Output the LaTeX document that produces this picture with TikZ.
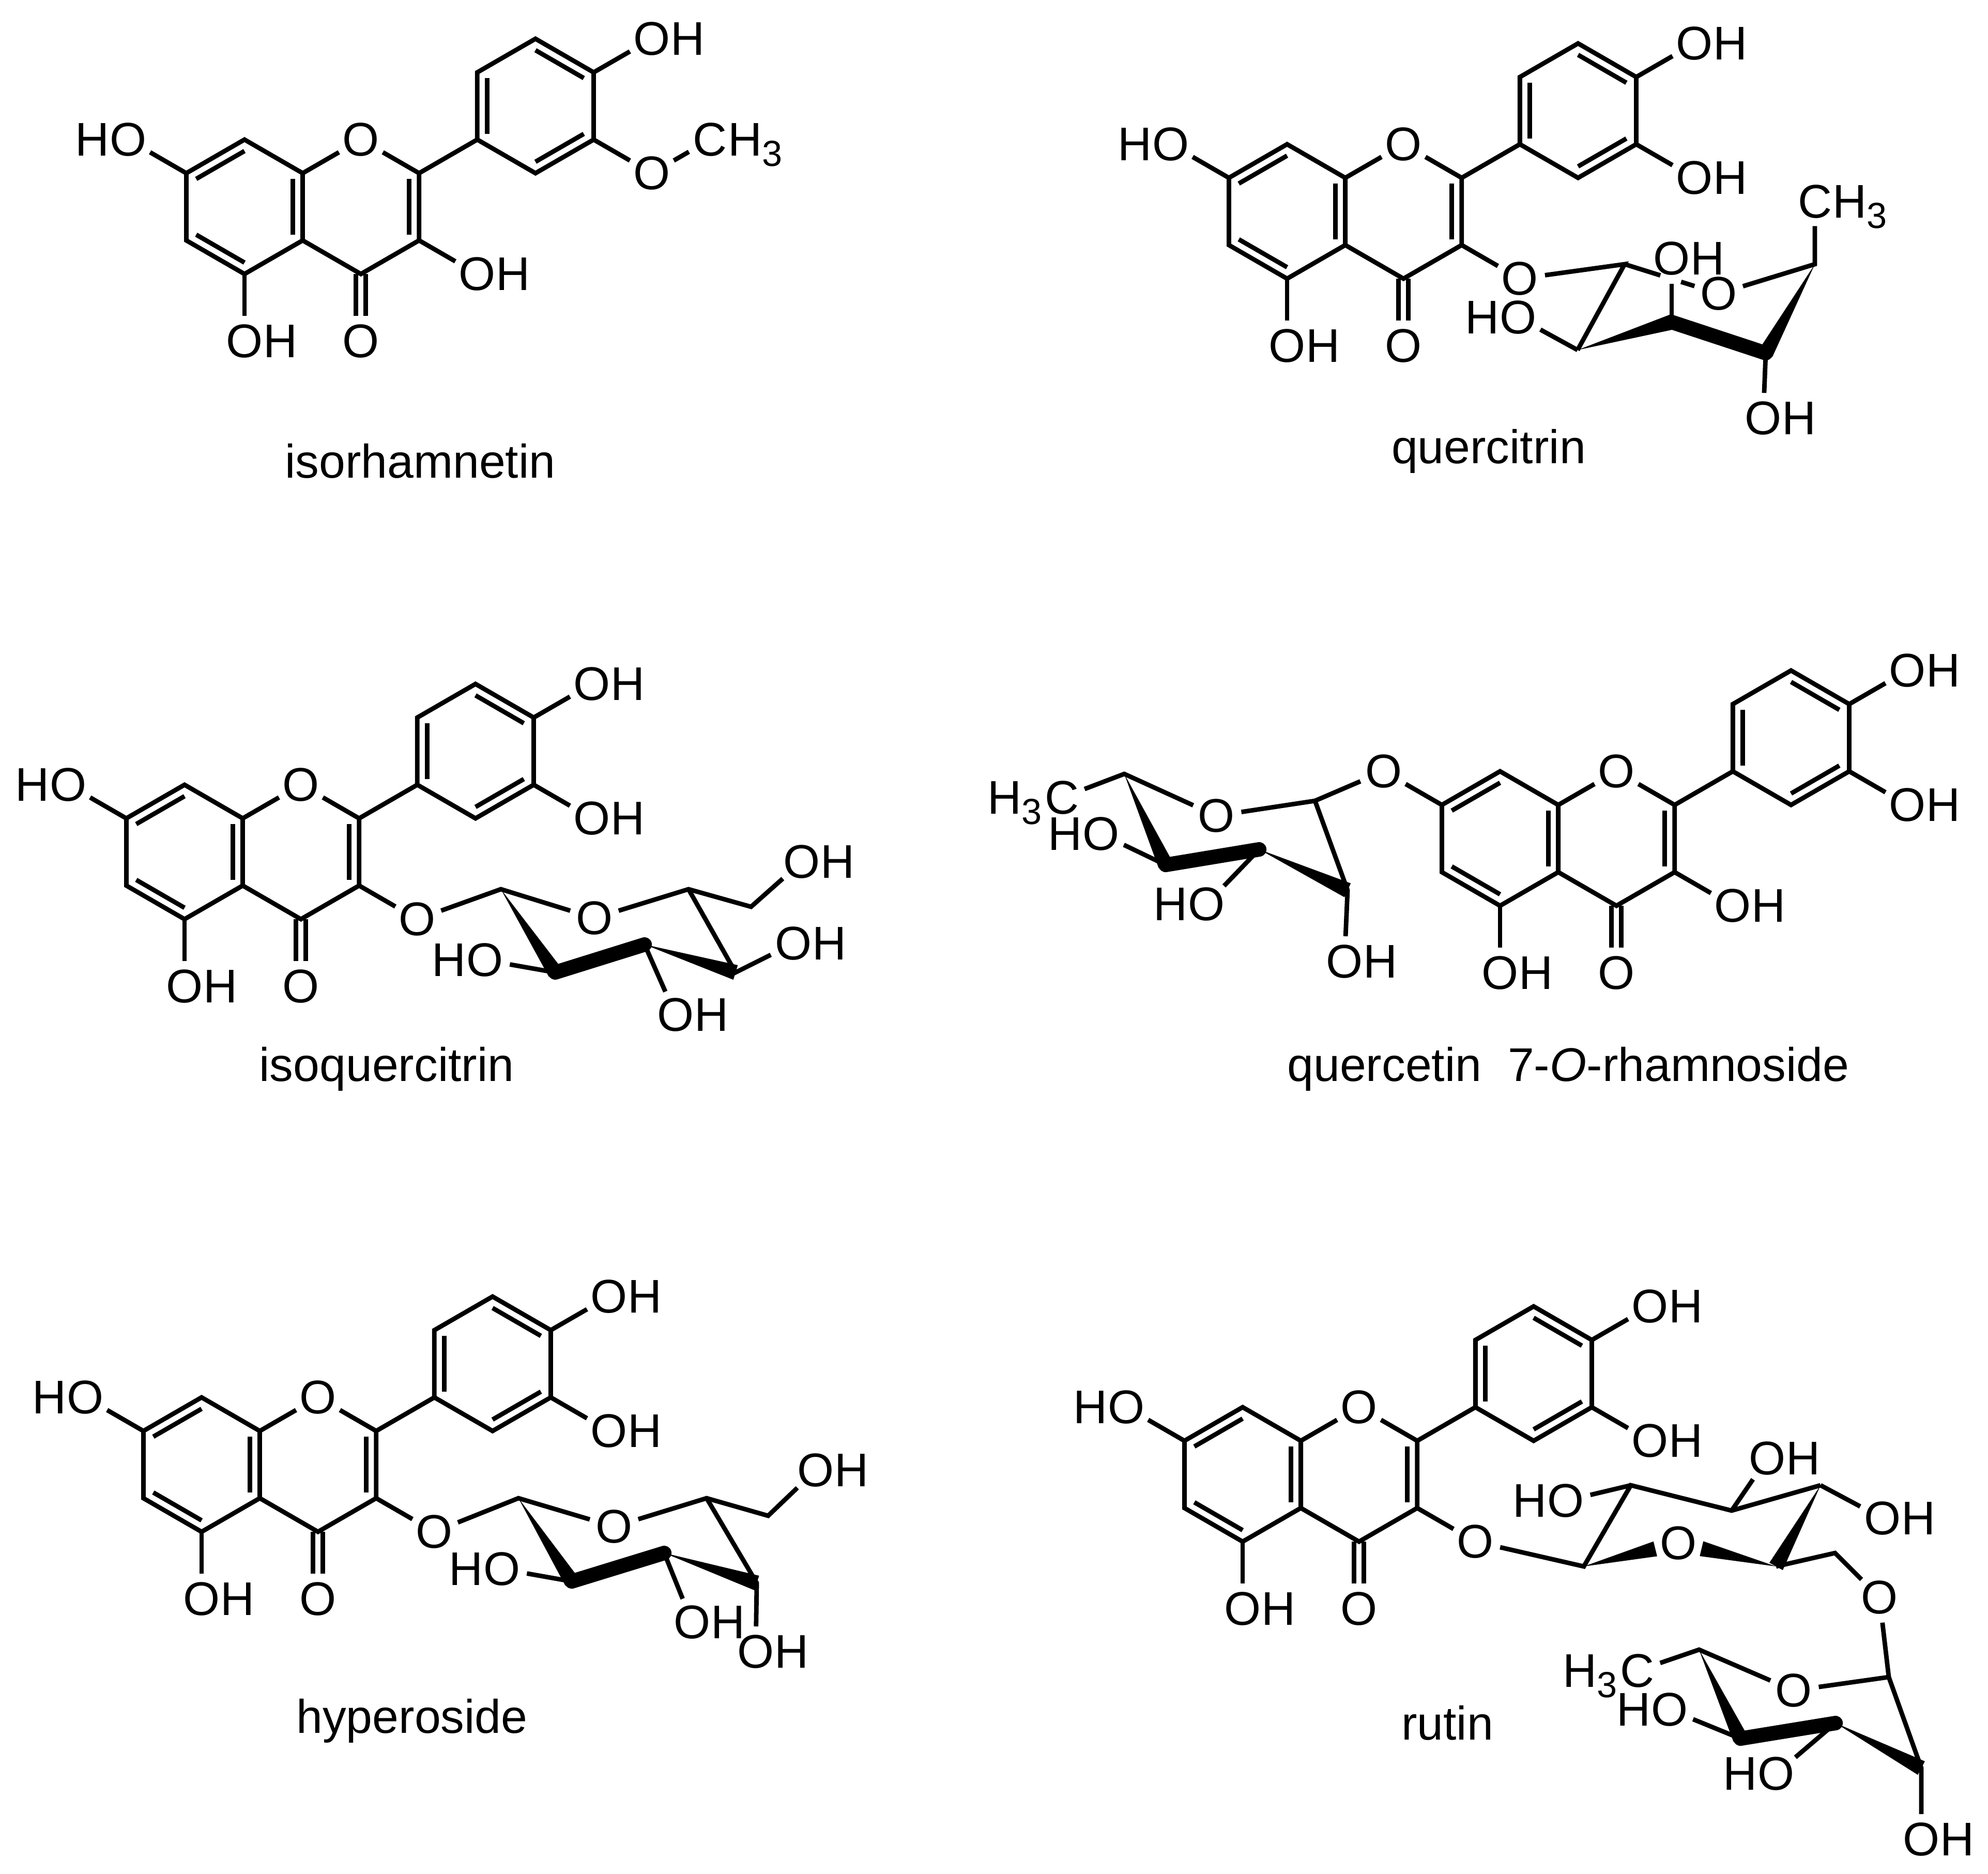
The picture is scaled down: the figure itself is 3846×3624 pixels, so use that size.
\documentclass[tikz,border=0pt]{standalone}
\usepackage{fontspec}
\setmainfont{Liberation Sans}
\usetikzlibrary{calc}

\tikzset{
	bond/.style={line width=1.25pt},
	bold/.style={line width=4pt, line cap=round},
	atom/.style={circle, inner sep=0pt, text depth=0pt},
	hr/.style={inner sep=0pt, xshift=-2pt, text depth=0pt},
	hl/.style={inner sep=0pt, xshift=2pt, text depth=0pt},
	titolo/.style={inner sep=0pt}
}

\newcommand{\inbond}[3]{\draw[bond] ($(#1)!0.17!(#3)$) -- ($(#2)!0.17!(#3)$);}
\newcommand{\wdg}[2]{\fill (#1) -- ($(#2)!2.1pt!90:(#1)$) -- ($(#2)!2.1pt!-90:(#1)$) -- cycle;}
\newcommand{\tre}{$_{\mbox{\fontsize{10}{12}\selectfont 3}}$}

\newcommand{\flavone}[3]{%
	\begin{scope}[shift={(#2,#3)}, x={(6.5mm,0)}, y={(0,6.5mm)}]
		%Centri degli anelli
		\coordinate (#1-ca) at (0,0);
		\coordinate (#1-cc) at (1.732,0);
		\coordinate (#1-cb) at (4.330,1.5);
		%Atomi di carbonio
		\coordinate (#1-c8) at (0,1);
		\coordinate (#1-c8a) at (0.866,0.5);
		\coordinate (#1-c4a) at (0.866,-0.5);
		\coordinate (#1-c5) at (0,-1);
		\coordinate (#1-c6) at (-0.866,-0.5);
		\coordinate (#1-c7) at (-0.866,0.5);
		\coordinate (#1-c2) at (2.598,0.5);
		\coordinate (#1-c3) at (2.598,-0.5);
		\coordinate (#1-c4) at (1.732,-1);
		\coordinate (#1-b1) at (3.464,1);
		\coordinate (#1-b2) at (3.464,2);
		\coordinate (#1-b3) at (4.330,2.5);
		\coordinate (#1-b4) at (5.196,2);
		\coordinate (#1-b5) at (5.196,1);
		\coordinate (#1-b6) at (4.330,0.5);
		%Posizioni dei sostituenti
		\coordinate (#1-p3) at (3.464,-1);
		\coordinate (#1-p7) at (-1.732,1);
		\coordinate (#1-p3p) at (6.062,0.5);
		\coordinate (#1-pme) at (6.928,1);
		%Ossigeni
		\node[atom] (#1-o1) at (1.732,1) {O};
		\node[atom] (#1-o4) at (1.732,-2) {O};
		\node[atom, label={[hr]east:H}] (#1-o5) at (0,-2) {O};
		\node[atom, label={[hr]east:H}] (#1-o4p) at (6.062,2.5) {O};
		%Legami
		\draw[bond] (#1-c7) -- (#1-c8) -- (#1-c8a) -- (#1-c4a) -- (#1-c5) -- (#1-c6) -- cycle;
		\draw[bond] (#1-c8a) -- (#1-o1) -- (#1-c2) -- (#1-c3) -- (#1-c4) -- (#1-c4a);
		\draw[bond] (#1-b1) -- (#1-b2) -- (#1-b3) -- (#1-b4) -- (#1-b5) -- (#1-b6) -- cycle;
		\draw[bond] (#1-c2) -- (#1-b1);
		\draw[bond] (#1-c5) -- (#1-o5);
		\draw[bond] (#1-b4) -- (#1-o4p);
		\draw[bond] ([xshift=-1.35pt]#1-c4) -- ([xshift=-1.35pt]#1-o4.north);
		\draw[bond] ([xshift=1.35pt]#1-c4) -- ([xshift=1.35pt]#1-o4.north);
		\inbond{#1-c7}{#1-c8}{#1-ca}
		\inbond{#1-c8a}{#1-c4a}{#1-ca}
		\inbond{#1-c5}{#1-c6}{#1-ca}
		\inbond{#1-c2}{#1-c3}{#1-cc}
		\inbond{#1-b1}{#1-b2}{#1-cb}
		\inbond{#1-b3}{#1-b4}{#1-cb}
		\inbond{#1-b5}{#1-b6}{#1-cb}
	\end{scope}}

\begin{document}
\begin{tikzpicture}[x=0.05mm, y=-0.05mm, font=\fontsize{13}{15}\selectfont]
	\useasboundingbox (0,0) rectangle (3846,3624);

	%Disegno la isoramnetina
	\flavone{a}{473}{400}
	\node[atom, label={[hl]west:H}] (a-o7) at (a-p7) {O};
	\node[atom, label={[hr]east:H}] (a-o3) at (a-p3) {O};
	\node[atom] (a-o3p) at (a-p3p) {O};
	\node[atom, label={[hr]east:H\tre}] (a-me) at (a-pme) {C};
	\draw[bond] (a-c7) -- (a-o7);
	\draw[bond] (a-c3) -- (a-o3);
	\draw[bond] (a-b5) -- (a-o3p) -- (a-me);
	\node[titolo] (titoloA) at (813,892) {isorhamnetin};

	%Disegno la quercitrina
	\flavone{b}{2490}{409}
	\node[atom, label={[hl]west:H}] (b-o7) at (b-p7) {O};
	\node[atom] (b-o3) at (b-p3) {O};
	\node[atom, label={[hr]east:H}] (b-o3p) at (b-p3p) {O};
	\draw[bond] (b-c7) -- (b-o7);
	\draw[bond] (b-c3) -- (b-o3);
	\draw[bond] (b-b5) -- (b-o3p);
	\coordinate (b-s1) at (3143,511);
	\coordinate (b-s2) at (3052,677);
	\coordinate (b-s3) at (3234,623);
	\coordinate (b-s4) at (3416,683);
	\coordinate (b-s5) at (3511,511);
	\node[atom] (b-so) at (3325,568) {O};
	\node[atom, label={[hr]east:H\tre}] (b-me) at (3511,390) {C};
	\node[atom, label={[hr]east:H}] (b-os4) at (3411,809) {O};
	\node[atom, label={[hr]east:H}] (b-os3) at (3234,500) {O};
	\node[atom, label={[hl]west:H}] (b-os2) at (2937,614) {O};
	\draw[bond] (b-o3) -- (b-s1) -- (b-s2);
	\draw[bond] (b-s1) -- ($(b-s1)!0.38!(b-so)$);
	\draw[bond] ($(b-s1)!0.6!(b-so)$) -- (b-so) -- (b-s5) -- (b-me);
	\wdg{b-s2}{b-s3}
	\draw[bold] (b-s3) -- (b-s4);
	\wdg{b-s5}{b-s4}
	\draw[bond] (b-s4) -- (b-os4);
	\draw[bond] (b-s3) -- (b-os3);
	\draw[bond] (b-s2) -- (b-os2);
	\node[titolo] (titoloB) at (2880,873) {quercitrin};

	%Disegno la isoquercitrina
	\flavone{c}{357}{1648}
	\node[atom, label={[hl]west:H}] (c-o7) at (c-p7) {O};
	\node[atom] (c-o3) at (c-p3) {O};
	\node[atom, label={[hr]east:H}] (c-o3p) at (c-p3p) {O};
	\draw[bond] (c-c7) -- (c-o7);
	\draw[bond] (c-c3) -- (c-o3);
	\draw[bond] (c-b5) -- (c-o3p);
	\coordinate (c-s1) at (969,1720);
	\coordinate (c-s2) at (1074,1881);
	\coordinate (c-s3) at (1247,1827);
	\coordinate (c-s4) at (1423,1881);
	\coordinate (c-s5) at (1332,1720);
	\coordinate (c-s6) at (1453,1754);
	\node[atom] (c-so) at (1150,1776) {O};
	\node[atom, label={[hr]east:H}] (c-os6) at (1551,1667) {O};
	\node[atom, label={[hr]east:H}] (c-os4) at (1535,1825) {O};
	\node[atom, label={[hr]east:H}] (c-os3) at (1307,1963) {O};
	\node[atom, label={[hl]west:H}] (c-os2) at (938,1857) {O};
	\draw[bond] (c-o3) -- (c-s1) -- (c-so) -- (c-s5) -- (c-s6) -- (c-os6);
	\draw[bond] (c-s5) -- (c-s4) -- (c-os4);
	\wdg{c-s1}{c-s2}
	\draw[bold] (c-s2) -- (c-s3);
	\wdg{c-s3}{c-s4}
	\draw[bond] (c-s3) -- (c-os3);
	\draw[bond] (c-s2) -- (c-os2);
	\node[titolo] (titoloC) at (748,2068) {isoquercitrin};

	%Disegno la quercetina 7-O-ramnoside
	\flavone{d}{2902}{1622}
	\node[atom] (d-o7) at (d-p7) {O};
	\node[atom, label={[hr]east:H}] (d-o3) at (d-p3) {O};
	\node[atom, label={[hr]east:H}] (d-o3p) at (d-p3p) {O};
	\draw[bond] (d-c7) -- (d-o7);
	\draw[bond] (d-c3) -- (d-o3);
	\draw[bond] (d-b5) -- (d-o3p);
	\coordinate (d-s1) at (2544,1549);
	\coordinate (d-s2) at (2607,1722);
	\coordinate (d-s3) at (2436,1643);
	\coordinate (d-s4) at (2255,1673);
	\coordinate (d-s5) at (2175,1497);
	\node[atom] (d-so) at (2353,1578) {O};
	\node[atom, label={[hl]west:H\tre}] (d-me) at (2054,1543) {C};
	\node[atom, label={[hl]west:H}] (d-os4) at (2130,1613) {O};
	\node[atom, label={[hl]west:H}] (d-os3) at (2334,1749) {O};
	\node[atom, label={[hr]east:H}] (d-os2) at (2601,1860) {O};
	\draw[bond] (d-o7) -- (d-s1) -- (d-so) -- (d-s5) -- (d-me);
	\draw[bond] (d-s1) -- (d-s2) -- (d-os2);
	\wdg{d-s3}{d-s2}
	\draw[bold] (d-s3) -- (d-s4);
	\wdg{d-s5}{d-s4}
	\draw[bond] (d-s4) -- (d-os4);
	\draw[bond] (d-s3) -- (d-os3);
	\node[titolo] (titoloD) at (3034,2068) {quercetin\ \ 7-\textit{O}-rhamnoside};

	%Disegno l'iperoside
	\flavone{e}{390}{2833}
	\node[atom, label={[hl]west:H}] (e-o7) at (e-p7) {O};
	\node[atom] (e-o3) at (e-p3) {O};
	\node[atom, label={[hr]east:H}] (e-o3p) at (e-p3p) {O};
	\draw[bond] (e-c7) -- (e-o7);
	\draw[bond] (e-c3) -- (e-o3);
	\draw[bond] (e-b5) -- (e-o3p);
	\coordinate (e-s1) at (1003,2898);
	\coordinate (e-s2) at (1106,3059);
	\coordinate (e-s3) at (1285,3004);
	\coordinate (e-s4) at (1464,3062);
	\coordinate (e-s5) at (1367,2898);
	\coordinate (e-s6) at (1486,2932);
	\node[atom] (e-so) at (1188,2953) {O};
	\node[atom, label={[hr]east:H}] (e-os6) at (1578,2844) {O};
	\node[atom, label={[hr]east:H}] (e-os4) at (1462,3195) {O};
	\node[atom, label={[hr]east:H}] (e-os3) at (1339,3138) {O};
	\node[atom, label={[hl]west:H}] (e-os2) at (971,3035) {O};
	\draw[bond] (e-o3) -- (e-s1) -- (e-so) -- (e-s5) -- (e-s6) -- (e-os6);
	\draw[bond] (e-s5) -- (e-s4) -- (e-os4);
	\wdg{e-s1}{e-s2}
	\draw[bold] (e-s2) -- (e-s3);
	\wdg{e-s3}{e-s4}
	\draw[bond] (e-s3) -- (e-os3);
	\draw[bond] (e-s2) -- (e-os2);
	\node[titolo] (titoloE) at (797,3329) {hyperoside};

	%Disegno la rutina
	\flavone{f}{2404}{2852}
	\node[atom, label={[hl]west:H}] (f-o7) at (f-p7) {O};
	\node[atom] (f-o3) at (f-p3) {O};
	\node[atom, label={[hr]east:H}] (f-o3p) at (f-p3p) {O};
	\draw[bond] (f-c7) -- (f-o7);
	\draw[bond] (f-c3) -- (f-o3);
	\draw[bond] (f-b5) -- (f-o3p);
	%glucosio
	\coordinate (f-s1) at (3064,3030);
	\coordinate (f-s2) at (3155,2873);
	\coordinate (f-s3) at (3350,2922);
	\coordinate (f-s4) at (3522,2873);
	\coordinate (f-s5) at (3436,3030);
	\coordinate (f-s6) at (3550,3004);
	\node[atom] (f-so) at (3247,2985) {O};
	\node[atom] (f-os6) at (3636,3090) {O};
	\node[atom, label={[hr]east:H}] (f-os4) at (3642,2937) {O};
	\node[atom, label={[hr]east:H}] (f-os3) at (3419,2821) {O};
	\node[atom, label={[hl]west:H}] (f-os2) at (3029,2903) {O};
	\coordinate (f-w1) at ($(f-so)!2.3mm!(f-s1)$);
	\coordinate (f-w2) at ($(f-so)!2.3mm!(f-s5)$);
	\draw[bond] (f-o3) -- (f-s1) -- (f-s2) -- (f-s3) -- (f-s4);
	\wdg{f-s1}{f-w1}
	\wdg{f-s5}{f-w2}
	\wdg{f-s4}{f-s5}
	\draw[bond] (f-s5) -- (f-s6) -- (f-os6);
	\draw[bond] (f-s4) -- (f-os4);
	\draw[bond] (f-s3) -- (f-os3);
	\draw[bond] (f-s2) -- (f-os2);
	%ramnosio
	\coordinate (f-r1) at (3654,3244);
	\coordinate (f-r2) at (3717,3420);
	\coordinate (f-r3) at (3551,3333);
	\coordinate (f-r4) at (3367,3363);
	\coordinate (f-r5) at (3287,3191);
	\node[atom] (f-ro) at (3470,3270) {O};
	\node[atom, label={[hl]west:H\tre}] (f-me) at (3167,3232) {C};
	\node[atom, label={[hl]west:H}] (f-or4) at (3230,3307) {O};
	\node[atom, label={[hl]west:H}] (f-or3) at (3436,3431) {O};
	\node[atom, label={[hr]east:H}] (f-or2) at (3717,3558) {O};
	\draw[bond] (f-os6) -- (f-r1) -- (f-ro) -- (f-r5) -- (f-me);
	\draw[bond] (f-r1) -- (f-r2) -- (f-or2);
	\wdg{f-r5}{f-r4}
	\draw[bold] (f-r4) -- (f-r3);
	\wdg{f-r3}{f-r2}
	\draw[bond] (f-r4) -- (f-or4);
	\draw[bond] (f-r3) -- (f-or3);
	\node[titolo] (titoloF) at (2800,3333) {rutin};

\end{tikzpicture}
\end{document}
